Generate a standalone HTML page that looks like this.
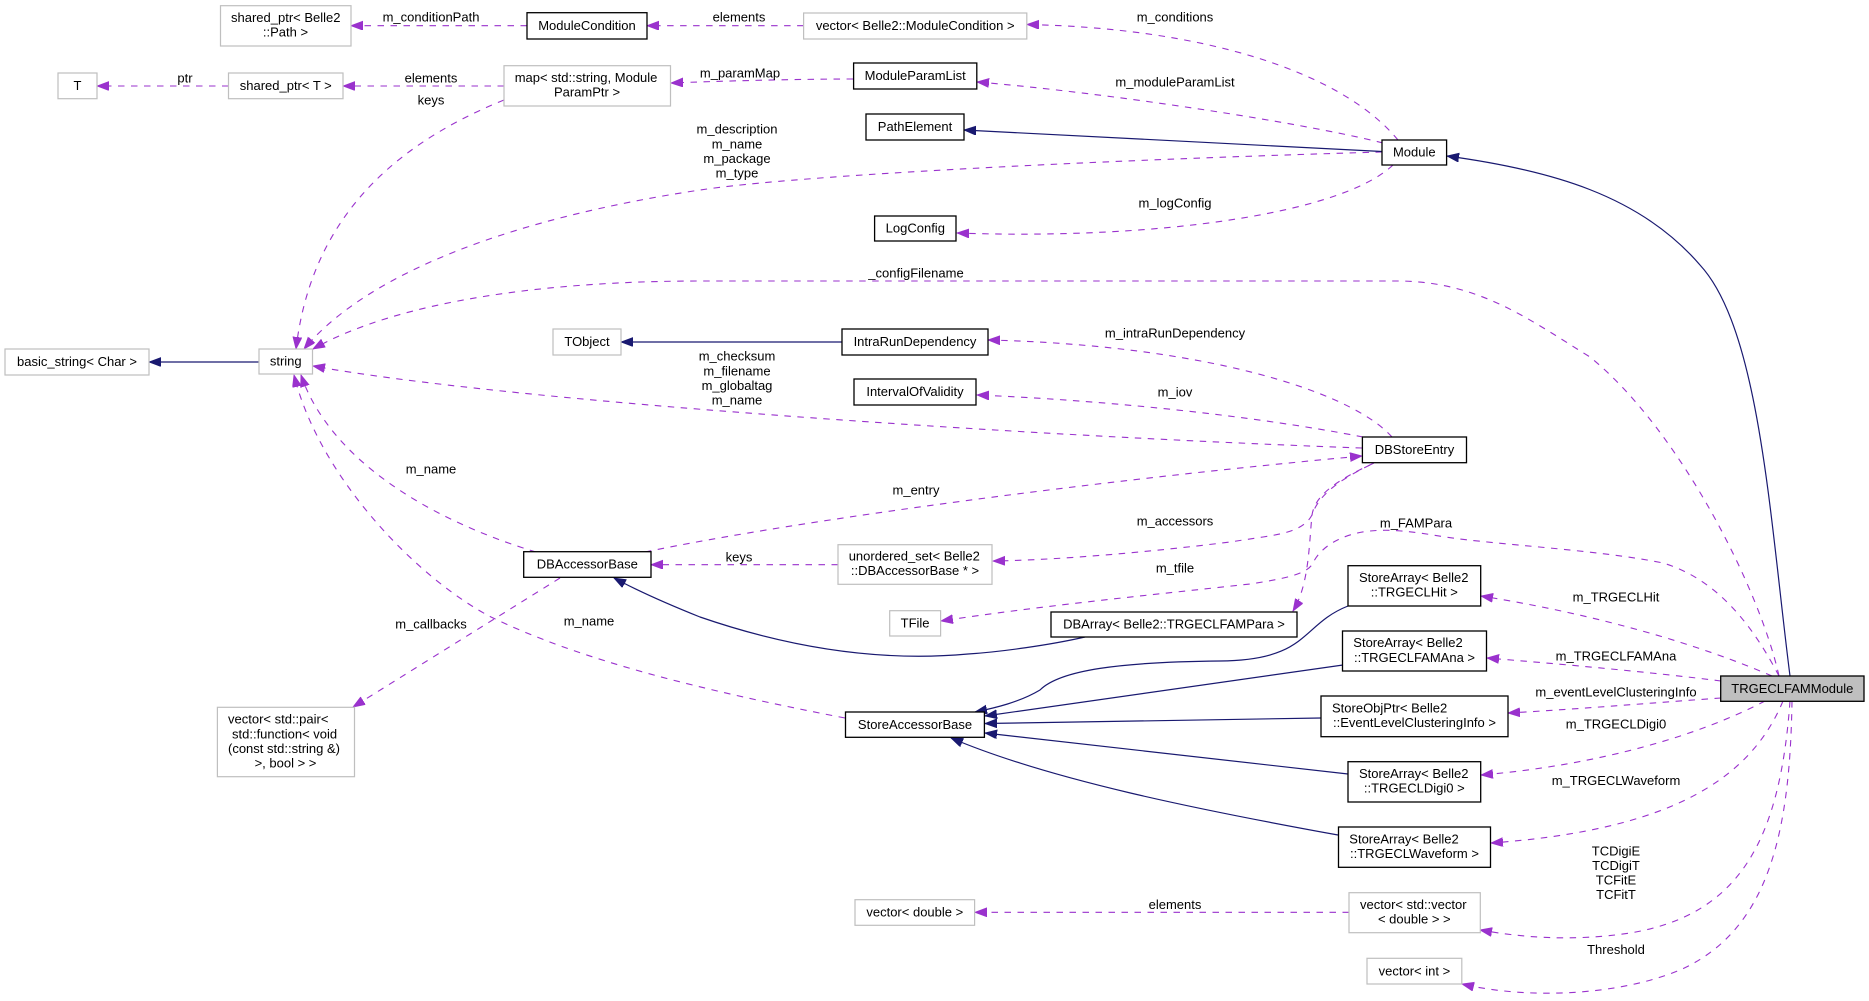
<!DOCTYPE html>
<html>
<head>
<meta charset="utf-8">
<style>
html,body{margin:0;padding:0;background:#fff;}
svg{display:block;}
text{font-family:"Liberation Sans",Arial,Helvetica,sans-serif;font-size:13px;fill:#000;}
.g{fill:#fff;stroke:#bfbfbf;stroke-width:1.2;}
.b{fill:#fff;stroke:#000;stroke-width:1.3;}
.p{fill:none;stroke:#9a32cd;stroke-width:1.1;stroke-dasharray:6.5,6.5;}
.n{fill:none;stroke:#191970;stroke-width:1.2;}
.m{text-anchor:middle;}
</style>
</head>
<body>
<svg width="1869" height="1001" viewBox="0 0 1869 1001" xmlns="http://www.w3.org/2000/svg">
<defs>
<marker id="ap" markerUnits="userSpaceOnUse" markerWidth="13" markerHeight="10" refX="12" refY="4.5" orient="auto">
<path d="M0,0 L12,4.5 L0,9 z" fill="#9a32cd" stroke="#9a32cd" stroke-width="0.8"/>
</marker>
<marker id="an" markerUnits="userSpaceOnUse" markerWidth="13" markerHeight="10" refX="12" refY="4.5" orient="auto">
<path d="M0,0 L12,4.5 L0,9 z" fill="#191970" stroke="#191970" stroke-width="0.8"/>
</marker>
</defs>
<rect x="0" y="0" width="1869" height="1001" fill="#fff"/>

<!-- purple dashed edges -->
<g marker-end="url(#ap)">
<path class="p" d="M527,25.7 L351,25.7"/>
<path class="p" d="M803.6,25.7 L647,25.7"/>
<path class="p" d="M1398,140 C1340,70 1200,28 1027,24.5"/>
<path class="p" d="M1383,143 C1300,122 1100,92 977,82"/>
<path class="p" d="M1382,152 C1100,160 800,175 700,190 C520,217 370,270 304,349"/>
<path class="p" d="M1393,165 C1340,215 1150,240 957,233"/>
<path class="p" d="M1779,676 C1760,590 1680,430 1590,357 C1530,320 1480,282 1400,281 L700,281 C550,281 400,300 313,349"/>
<path class="p" d="M853,79 C800,79 720,81 671,83"/>
<path class="p" d="M504,86 L343,86"/>
<path class="p" d="M228.5,86 L97,86"/>
<path class="p" d="M504,100 C380,150 310,230 296,349"/>
<path class="p" d="M1392,437 C1350,390 1200,345 988,340"/>
<path class="p" d="M1363,437 C1250,415 1100,400 977,395"/>
<path class="p" d="M1362,448 C1000,435 500,400 313,366"/>
<path class="p" d="M645,552 C800,520 1100,480 1362,456"/>
<path class="p" d="M1370,465 C1335,482 1318,497 1312,515 C1305,528 1290,533 1263,537 L1230,542 C1150,552 1060,560 993,561"/>
<path class="p" d="M838,564.7 L651,564.7"/>
<path class="p" d="M1374,463 C1337,480 1315,495 1312,515 C1309,545 1309,585 1293,611"/>
<path class="p" d="M1779,676 C1755,630 1720,580 1663,563 C1600,550 1500,545 1445,537 C1410,531 1390,529 1370,531 C1340,534 1320,548 1313,563 C1308,573 1290,578 1250,584 C1150,595 1040,606 941,621"/>
<path class="p" d="M536,552 C430,520 330,460 301,375"/>
<path class="p" d="M845,718 C700,690 580,660 491,617 C420,580 320,480 294,375"/>
<path class="p" d="M560,578 L353,707"/>
<path class="p" d="M1772,676 C1700,645 1600,615 1481,596"/>
<path class="p" d="M1721,681 C1650,672 1560,664 1487,658"/>
<path class="p" d="M1721,698 C1650,703 1580,709 1508,713"/>
<path class="p" d="M1765,701 C1700,735 1600,765 1481,775"/>
<path class="p" d="M1783,701 C1750,780 1670,830 1491,843"/>
<path class="p" d="M1790,701 C1780,840 1740,915 1630,933 C1570,942 1520,937 1480,930"/>
<path class="p" d="M1349,912.3 L975,912.3"/>
<path class="p" d="M1792,701 C1790,830 1770,930 1680,970 C1620,995 1530,1000 1462,984"/>
</g>

<!-- navy solid edges -->
<g marker-end="url(#an)">
<path class="n" d="M1790,676 C1770,520 1760,330 1700,265 C1640,195 1550,170 1447,156"/>
<path class="n" d="M1382,151.5 L964,130"/>
<path class="n" d="M259,362 L149,362"/>
<path class="n" d="M842,342 L621,342"/>
<path class="n" d="M1085,637 C1050,645 1000,652 968,654 C880,662 790,648 700,617 C670,605 640,592 614,578"/>
<path class="n" d="M1348,606 C1300,625 1310,660 1220,661 C1120,662 1060,670 1040,690 C1020,702 995,708 975,712"/>
<path class="n" d="M1343,665 L985,716"/>
<path class="n" d="M1321,718 L985,723.5"/>
<path class="n" d="M1348,774 L985,733"/>
<path class="n" d="M1338,835 C1200,810 1050,780 951,738"/>
</g>

<!-- nodes -->
<rect class="g" x="220.5" y="5.7" width="130.5" height="40.3"/>
<text x="231" y="21.9">shared_ptr&lt; Belle2</text>
<text class="m" x="285.5" y="36.6">::Path &gt;</text>

<rect class="b" x="527" y="12.7" width="120" height="26.3"/>
<text class="m" x="587" y="30">ModuleCondition</text>

<rect class="g" x="803.6" y="13" width="223.2" height="26"/>
<text class="m" x="915.2" y="30.2">vector&lt; Belle2::ModuleCondition &gt;</text>

<rect class="g" x="58" y="73" width="39" height="25.7"/>
<text class="m" x="77.5" y="90">T</text>

<rect class="g" x="228.5" y="73" width="114.5" height="25.7"/>
<text class="m" x="285.75" y="90">shared_ptr&lt; T &gt;</text>

<rect class="g" x="504" y="65.7" width="166.5" height="40.3"/>
<text x="514.7" y="82">map&lt; std::string, Module</text>
<text class="m" x="587" y="96.6">ParamPtr &gt;</text>

<rect class="b" x="853.6" y="63" width="123.2" height="26"/>
<text class="m" x="915.2" y="80.2">ModuleParamList</text>

<rect class="b" x="866" y="114" width="98" height="26"/>
<text class="m" x="915" y="131.2">PathElement</text>

<rect class="b" x="1382" y="140" width="64.6" height="25"/>
<text class="m" x="1414.3" y="156.7">Module</text>

<rect class="b" x="874.6" y="216" width="81.4" height="25"/>
<text class="m" x="915.3" y="232.7">LogConfig</text>

<rect class="g" x="259" y="349" width="53.5" height="25"/>
<text class="m" x="285.75" y="365.7">string</text>

<rect class="g" x="5" y="349" width="144" height="26"/>
<text class="m" x="77" y="366.2">basic_string&lt; Char &gt;</text>

<rect class="g" x="553" y="329" width="68" height="26"/>
<text class="m" x="587" y="346.2">TObject</text>

<rect class="b" x="842" y="329" width="146" height="26"/>
<text class="m" x="915" y="346.2">IntraRunDependency</text>

<rect class="b" x="854" y="379" width="122" height="26"/>
<text class="m" x="915" y="396.2">IntervalOfValidity</text>

<rect class="b" x="1362.4" y="437" width="104.1" height="25.7"/>
<text class="m" x="1414.5" y="454">DBStoreEntry</text>

<rect class="b" x="523.7" y="551.7" width="127.3" height="25.6"/>
<text class="m" x="587.3" y="568.7">DBAccessorBase</text>

<rect class="g" x="838" y="544.7" width="154" height="39.6"/>
<text x="848.7" y="560.6">unordered_set&lt; Belle2</text>
<text class="m" x="915" y="575.2">::DBAccessorBase * &gt;</text>

<rect class="g" x="889.7" y="610.7" width="50.9" height="25.3"/>
<text class="m" x="915.1" y="627.5">TFile</text>

<rect class="b" x="1051" y="612" width="246" height="25"/>
<text class="m" x="1174" y="628.7">DBArray&lt; Belle2::TRGECLFAMPara &gt;</text>

<rect class="b" x="1348" y="565.7" width="132.7" height="40.3"/>
<text x="1359" y="582">StoreArray&lt; Belle2</text>
<text class="m" x="1414.3" y="596.6">::TRGECLHit &gt;</text>

<rect class="b" x="1342.5" y="631" width="144" height="40"/>
<text x="1353.3" y="647.2">StoreArray&lt; Belle2</text>
<text class="m" x="1414.5" y="661.75">::TRGECLFAMAna &gt;</text>

<rect x="1720.7" y="676" width="143.3" height="25.3" fill="#bfbfbf" stroke="#000" stroke-width="1.3"/>
<text class="m" x="1792.35" y="692.9">TRGECLFAMModule</text>

<rect class="b" x="1321" y="696" width="187" height="40.7"/>
<text x="1332" y="712.5">StoreObjPtr&lt; Belle2</text>
<text class="m" x="1414.5" y="727.1">::EventLevelClusteringInfo &gt;</text>

<rect class="b" x="845.5" y="712" width="138.9" height="25.3"/>
<text class="m" x="915" y="728.9">StoreAccessorBase</text>

<rect class="b" x="1348" y="761.7" width="132.7" height="40.3"/>
<text x="1359" y="778">StoreArray&lt; Belle2</text>
<text class="m" x="1414.3" y="792.6">::TRGECLDigi0 &gt;</text>

<rect class="b" x="1338.5" y="827" width="152" height="40.3"/>
<text x="1349.3" y="843.3">StoreArray&lt; Belle2</text>
<text class="m" x="1414.5" y="857.9">::TRGECLWaveform &gt;</text>

<rect class="g" x="217.4" y="707.3" width="137.1" height="69.4"/>
<text x="228" y="723.6">vector&lt; std::pair&lt;</text>
<text x="232" y="738.3">std::function&lt; void</text>
<text x="228" y="752.9">(const std::string &amp;)</text>
<text class="m" x="285.5" y="767.6">&gt;, bool &gt; &gt;</text>

<rect class="g" x="855" y="899.7" width="119.6" height="25.6"/>
<text class="m" x="914.8" y="916.7">vector&lt; double &gt;</text>

<rect class="g" x="1349" y="892.7" width="131.3" height="40"/>
<text x="1360" y="908.9">vector&lt; std::vector</text>
<text class="m" x="1414.3" y="923.5">&lt; double &gt; &gt;</text>

<rect class="g" x="1367" y="958.3" width="94.8" height="25.7"/>
<text class="m" x="1414.4" y="975.3">vector&lt; int &gt;</text>

<!-- edge labels -->
<g class="m">
<text class="m" x="431" y="21.6">m_conditionPath</text>
<text class="m" x="739" y="21.6">elements</text>
<text class="m" x="1175" y="21.6">m_conditions</text>
<text class="m" x="185" y="82.6">ptr</text>
<text class="m" x="431" y="82.6">elements</text>
<text class="m" x="740" y="77.6">m_paramMap</text>
<text class="m" x="1175" y="86.6">m_moduleParamList</text>
<text class="m" x="431" y="104.6">keys</text>
<text class="m" x="737" y="133.6">m_description</text>
<text class="m" x="737" y="148.3">m_name</text>
<text class="m" x="737" y="163">m_package</text>
<text class="m" x="737" y="177.7">m_type</text>
<text class="m" x="1175" y="207.6">m_logConfig</text>
<text class="m" x="916" y="277.6">_configFilename</text>
<text class="m" x="1175" y="337.6">m_intraRunDependency</text>
<text class="m" x="737" y="360.6">m_checksum</text>
<text class="m" x="737" y="375.3">m_filename</text>
<text class="m" x="737" y="390">m_globaltag</text>
<text class="m" x="737" y="404.7">m_name</text>
<text class="m" x="1175" y="396.6">m_iov</text>
<text class="m" x="431" y="473.3">m_name</text>
<text class="m" x="916" y="494.6">m_entry</text>
<text class="m" x="1175" y="525.3">m_accessors</text>
<text class="m" x="1416" y="527.3">m_FAMPara</text>
<text class="m" x="739" y="561.3">keys</text>
<text class="m" x="1175" y="572.6">m_tfile</text>
<text class="m" x="1616" y="601.6">m_TRGECLHit</text>
<text class="m" x="589" y="625.3">m_name</text>
<text class="m" x="431" y="628.6">m_callbacks</text>
<text class="m" x="1616" y="660.6">m_TRGECLFAMAna</text>
<text class="m" x="1616" y="696.6">m_eventLevelClusteringInfo</text>
<text class="m" x="1616" y="728.6">m_TRGECLDigi0</text>
<text class="m" x="1616" y="784.9">m_TRGECLWaveform</text>
<text class="m" x="1616" y="855.3">TCDigiE</text>
<text class="m" x="1616" y="869.9">TCDigiT</text>
<text class="m" x="1616" y="884.6">TCFitE</text>
<text class="m" x="1616" y="898.9">TCFitT</text>
<text class="m" x="1175" y="908.9">elements</text>
<text class="m" x="1616" y="953.9">Threshold</text>
</g>
</svg>
</body>
</html>
